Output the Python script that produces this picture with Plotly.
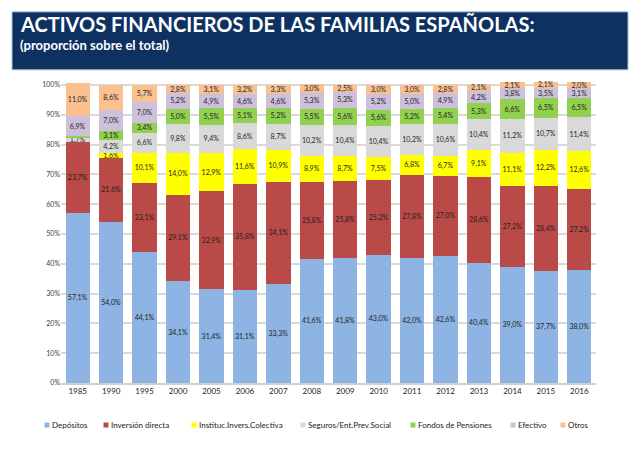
import plotly.graph_objects as go

years = ["1985", "1990", "1995", "2000", "2005", "2006", "2007", "2008",
         "2009", "2010", "2011", "2012", "2013", "2014", "2015", "2016"]

depositos = [57.1, 54.0, 44.1, 34.1, 31.4, 31.1, 33.3, 41.6, 41.8, 43.0, 42.0, 42.6, 40.4, 39.0, 37.7, 38.0]
inversion = [23.7, 21.6, 23.1, 29.1, 32.9, 35.8, 34.1, 25.8, 25.8, 25.2, 27.8, 27.0, 28.6, 27.2, 28.4, 27.2]
instituc = [0.0, 1.6, 10.1, 14.0, 12.9, 11.6, 10.9, 8.9, 8.7, 7.5, 6.8, 6.7, 9.1, 11.1, 12.2, 12.6]
seguros = [1.7, 4.2, 6.6, 9.8, 9.4, 8.6, 8.7, 10.2, 10.4, 10.4, 10.2, 10.6, 10.4, 11.2, 10.7, 11.4]
fondos = [0.2, 3.1, 3.4, 5.0, 5.5, 5.1, 5.2, 5.5, 5.6, 5.6, 5.2, 5.4, 5.3, 6.6, 6.5, 6.5]
efectivo = [6.9, 7.0, 7.0, 5.2, 4.9, 4.6, 4.6, 5.3, 5.3, 5.2, 5.0, 4.9, 4.2, 3.8, 3.5, 3.1]
otros = [11.0, 8.6, 5.7, 2.8, 3.1, 3.2, 3.3, 3.0, 2.5, 3.0, 3.0, 2.8, 2.1, 2.1, 2.1, 2.0]

y_ticks = [0, 10, 20, 30, 40, 50, 60, 70, 80, 90, 100]
y_tick_labels = ["0%", "10%", "20%", "30%", "40%", "50%", "60%", "70%", "80%", "90%", "100%"]

series_names = ["Depósitos", "Inversión directa", "Instituc.Invers.Colectiva",
                "Seguros/Ent.Prev.Social", "Fondos de Pensiones", "Efectivo", "Otros"]
series_values = [depositos, inversion, instituc, seguros, fondos, efectivo, otros]
series_colors = ["#8db4e2", "#b94a48", "#ffff00", "#d9d9d9", "#92d050", "#ccc0da", "#fac090"]

# legend marker x-positions (pixels) - layout only
legend_px = [47, 106, 194, 303, 413, 513, 563]
legend_py = 425

FONT = "Lato"
YMAX = 101.3


def fmt(v):
    if v < 1.0:
        return ""
    return ("%.1f" % v).replace(".", ",") + "%"


W, H = 641, 449
L, R, B = 61, 45, 66
unit = 298 / 100.0          # pixels per percentage point (0% at y=383, 100% at y=85)
T = 85 - (YMAX - 100) * unit
pw, ph = W - L - R, H - T - B


def px(x):
    return (x - L) / pw


def py(y):
    return (H - B - y) / ph


fig = go.Figure()
for name, vals, color in zip(series_names, series_values, series_colors):
    fig.add_trace(go.Bar(
        x=years, y=vals, name=name,
        marker=dict(color=color, line=dict(width=0)),
        text=[fmt(v) for v in vals],
        textposition="inside", insidetextanchor="middle", textangle=0,
        constraintext="none",
        textfont=dict(size=7, color="#1f1f1f", family=FONT),
        cliponaxis=False,
        showlegend=False,
        hoverinfo="skip",
    ))

for name, color, lx in zip(series_names, series_colors, legend_px):
    fig.add_shape(type="rect", xref="paper", yref="paper",
                  x0=px(lx - 2.5), x1=px(lx + 2.5), y0=py(legend_py + 2.5), y1=py(legend_py - 2.5),
                  fillcolor=color, line=dict(width=0))
    fig.add_annotation(xref="paper", yref="paper", x=px(lx + 3), y=py(legend_py),
                       xanchor="left", yanchor="middle", showarrow=False,
                       text=name, font=dict(size=8, color="#222", family=FONT))

fig.add_shape(type="rect", xref="paper", yref="paper",
              x0=px(12), x1=px(628), y0=py(70), y1=py(12),
              fillcolor="#0d3262", line=dict(color="#b8c0cc", width=1))
fig.add_annotation(xref="paper", yref="paper", x=px(18), y=py(24),
                   xanchor="left", yanchor="middle", showarrow=False,
                   text="<b>ACTIVOS FINANCIEROS DE LAS FAMILIAS ESPAÑOLAS:</b>",
                   font=dict(size=20, color="white", family=FONT))
fig.add_annotation(xref="paper", yref="paper", x=px(18), y=py(45),
                   xanchor="left", yanchor="middle", showarrow=False,
                   text="<b>(proporción sobre el total)</b>",
                   font=dict(size=13, color="white", family=FONT))

fig.update_layout(
    width=W, height=H,
    margin=dict(l=L, r=R, t=T, b=B),
    barmode="stack", bargap=0.27,
    paper_bgcolor="white", plot_bgcolor="white",
    font=dict(family=FONT, color="#222"),
    showlegend=False,
    xaxis=dict(tickfont=dict(size=8, color="#222"), showline=True,
               linecolor="#d0d0d0", linewidth=1.5, ticks="", showgrid=False),
    yaxis=dict(range=[0, YMAX], tickmode="array", tickvals=y_ticks, ticktext=y_tick_labels,
               tickfont=dict(size=7, color="#404040"),
               gridcolor="#d9d9d9", gridwidth=1.5, zeroline=False, ticks=""),
)

fig.write_html("out.html")
